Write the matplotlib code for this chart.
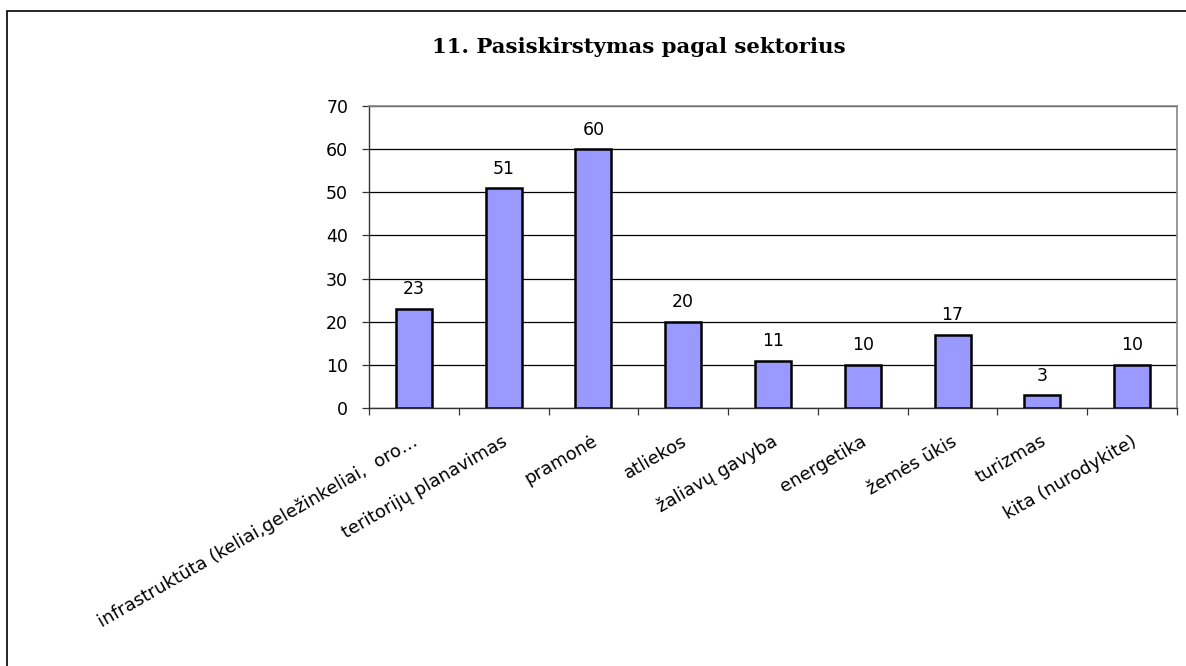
import matplotlib
matplotlib.use("Agg")
import matplotlib.pyplot as plt
from matplotlib.patches import Rectangle

categories = [
    "infrastruktūta (keliai,geležinkeliai,  oro…",
    "teritorijų planavimas",
    "pramonė",
    "atliekos",
    "žaliavų gavyba",
    "energetika",
    "žemės ūkis",
    "turizmas",
    "kita (nurodykite)",
]
values = [23, 51, 60, 20, 11, 10, 17, 3, 10]
yticks = [0, 10, 20, 30, 40, 50, 60, 70]
title = "11. Pasiskirstymas pagal sektorius"

W, H = 1186, 666
fig = plt.figure(figsize=(W / 100, H / 100), dpi=100)
fig.patch.set_facecolor("white")

# outer frame
fig.add_artist(Rectangle((7 / W, -0.05), 1.1, (H - 11) / H + 0.05,
                         transform=fig.transFigure, fill=False,
                         edgecolor="black", linewidth=1.2))

SANS = "DejaVu Sans"
FS = 12.5

ax = fig.add_axes([369 / W, 1 - 408 / H, (1177 - 369) / W, (408 - 106) / H])
x = list(range(len(categories)))
ax.bar(x, values, width=0.4, color="#9999FF", edgecolor="black", linewidth=1.8, zorder=3)
ax.set_xlim(-0.5, len(categories) - 0.5)
ax.set_ylim(0, 70)
ax.set_yticks(yticks)
ax.set_yticklabels([str(t) for t in yticks], fontfamily=SANS, fontsize=FS)
ax.yaxis.grid(True, color="black", linewidth=0.9, zorder=0)
ax.set_axisbelow(True)

ax.set_xticks([i + 0.5 for i in range(-1, len(categories))])
ax.set_xticklabels([])
ax.tick_params(axis="x", direction="out", length=5, width=0.9, color="#333333")
ax.tick_params(axis="y", direction="out", length=5, width=0.9, color="#333333", pad=10)

for i, c in enumerate(categories):
    ax.annotate(c, xy=(i, 0), xycoords=("data", "axes fraction"),
                xytext=(2, -23), textcoords="offset points",
                rotation=30, rotation_mode="anchor", ha="right", va="center",
                fontfamily=SANS, fontsize=13)

for i, v in enumerate(values):
    ax.annotate(str(v), xy=(i, v), xytext=(0, 7.5), textcoords="offset points",
                ha="center", va="bottom", fontfamily=SANS, fontsize=FS)

for s in ["top", "right"]:
    ax.spines[s].set_color("#888888")
    ax.spines[s].set_linewidth(1.2)
for s in ["left", "bottom"]:
    ax.spines[s].set_color("#333333")
    ax.spines[s].set_linewidth(1.0)

fig.text(639 / W, 1 - 47 / H, title, ha="center", va="center",
         fontfamily="DejaVu Serif", fontweight="bold", fontsize=15.3)

fig.savefig("out.png", dpi=100)
